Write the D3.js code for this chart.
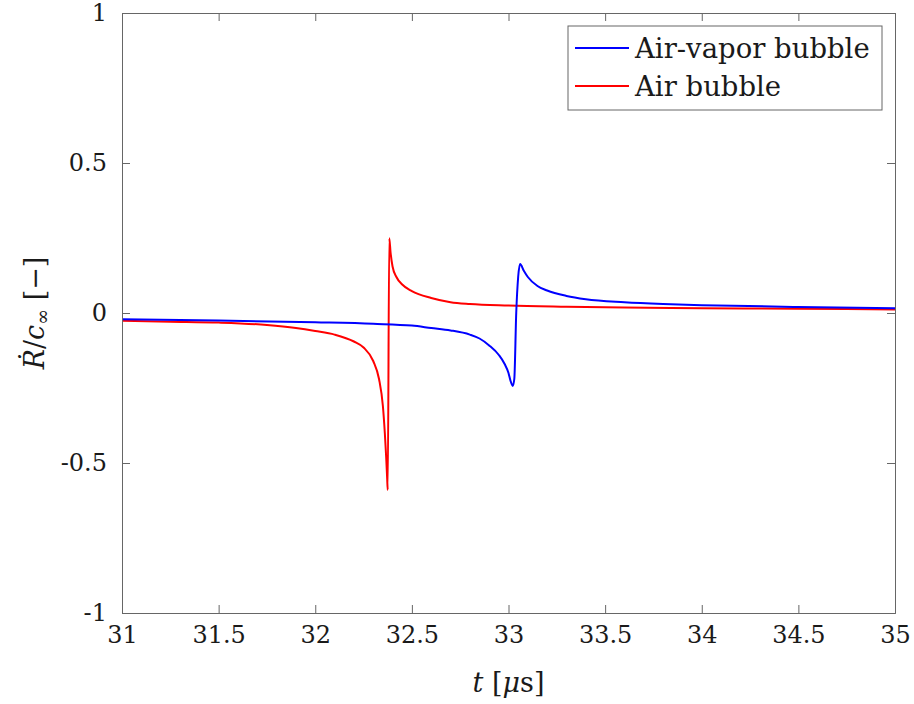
<!DOCTYPE html>
<html><head><meta charset="utf-8">
<script src="https://cdn.jsdelivr.net/npm/d3@7"></script>
<style>body{margin:0;background:#fff}svg{display:block}</style>
</head><body>
<script>
const xTicks = [31,31.5,32,32.5,33,33.5,34,34.5,35];
const yTicks = [-1,-0.5,0,0.5,1];
const yTickLabels = ["-1","-0.5","0","0.5","1"];
const seriesNames = ["Air-vapor bubble","Air bubble"];
const seriesColors = ["#0000ff","#ff0000"];
const blueT = [31.0,31.5,32.0,32.3,32.5,32.6,32.7,32.8,32.85,32.9,32.95,32.98,33.0,33.01,33.022,33.03,33.04,33.05,33.06,33.08,33.1,33.15,33.2,33.3,33.4,33.6,33.8,34.0,34.5,35.0];
const blueV = [-0.021,-0.025,-0.031,-0.036,-0.042,-0.050,-0.058,-0.072,-0.085,-0.108,-0.14,-0.17,-0.20,-0.225,-0.243,-0.22,0.0,0.12,0.163,0.14,0.12,0.09,0.075,0.057,0.046,0.036,0.030,0.026,0.020,0.016];
const redT = [31.0,31.25,31.5,31.75,31.9,32.0,32.1,32.2,32.25,32.3,32.33,32.35,32.36,32.367,32.372,32.375,32.383,32.39,32.40,32.42,32.45,32.5,32.6,32.7,32.8,33.0,33.3,33.6,34.0,34.5,35.0];
const redV = [-0.026,-0.029,-0.032,-0.040,-0.050,-0.060,-0.072,-0.095,-0.115,-0.16,-0.22,-0.31,-0.40,-0.48,-0.55,-0.59,0.249,0.20,0.155,0.12,0.095,0.073,0.050,0.036,0.030,0.025,0.021,0.018,0.016,0.014,0.012];

const FF = "DejaVu Serif";
const W=914,H=704, L=122,R=895,T=13,B=613;
const svg=d3.select("body").append("svg").attr("width",W).attr("height",H);
const x=d3.scaleLinear().domain([31,35]).range([L,R]);
const y=d3.scaleLinear().domain([-1,1]).range([B,T]);
const axCol="#666", fs=24;

const line=d3.line().x(d=>x(d[0])).y(d=>y(d[1])).curve(d3.curveMonotoneX);
const data=[d3.zip(blueT,blueV), d3.zip(redT,redV)];
const g=svg.append("g");
[1,0].forEach(i=>{
  g.append("path").datum(data[i]).attr("d",line).attr("fill","none").attr("stroke",seriesColors[i]).attr("stroke-width",2).attr("stroke-linejoin","round");
});

const tl=8;
const xb=d3.axisBottom(x).tickValues(xTicks).tickSize(-tl).tickPadding(13).tickFormat(d=>String(d));
const xt=d3.axisTop(x).tickValues(xTicks).tickSize(-tl).tickFormat("");
const yl=d3.axisLeft(y).tickValues(yTicks).tickSize(-tl).tickPadding(15).tickFormat((d,i)=>yTickLabels[i]);
const yr=d3.axisRight(y).tickValues(yTicks).tickSize(-tl).tickFormat("");
function style(sel){sel.attr("font-family",null).attr("font-size",null);sel.selectAll("path,line").attr("stroke",axCol);sel.selectAll("text").attr("fill","#1a1a1a").style("font-family",FF).style("font-size",fs+"px");}
svg.append("g").attr("transform",`translate(0,${B})`).call(xb).call(style);
svg.append("g").attr("transform",`translate(0,${T})`).call(xt).call(style);
svg.append("g").attr("transform",`translate(${L},0)`).call(yl).call(style);
svg.append("g").attr("transform",`translate(${R},0)`).call(yr).call(style);

const xl=svg.append("text").attr("x",(L+R)/2).attr("y",692).attr("text-anchor","middle").style("font-family",FF).style("font-size","27px").attr("fill","#1a1a1a");
xl.append("tspan").attr("font-style","italic").text("t");
xl.append("tspan").text(" [");
xl.append("tspan").attr("font-style","italic").text("μ");
xl.append("tspan").text("s]");

const ylab=svg.append("text").attr("transform",`translate(44,${(T+B)/2}) rotate(-90)`).attr("text-anchor","middle").style("font-family",FF).style("font-size","27px").attr("fill","#1a1a1a");
ylab.append("tspan").attr("font-style","italic").text("Ṙ");
ylab.append("tspan").text("/");
ylab.append("tspan").attr("font-style","italic").text("c");
ylab.append("tspan").style("font-size","19px").attr("dy",5).text("∞");
ylab.append("tspan").attr("dy",-5).text(" [−]");

const lg=svg.append("g");
lg.append("rect").attr("x",568).attr("y",26).attr("width",314).attr("height",84).attr("fill","#fff").attr("stroke",axCol).attr("stroke-width",1);
seriesNames.forEach((n,i)=>{
  const yy=48+i*38;
  lg.append("line").attr("x1",575).attr("x2",629).attr("y1",yy).attr("y2",yy).attr("stroke",seriesColors[i]).attr("stroke-width",2);
  lg.append("text").attr("x",635).attr("y",yy).attr("dy","0.35em").style("font-family",FF).style("font-size","27.5px").attr("fill","#1a1a1a").text(n);
});
</script>
</body></html>
